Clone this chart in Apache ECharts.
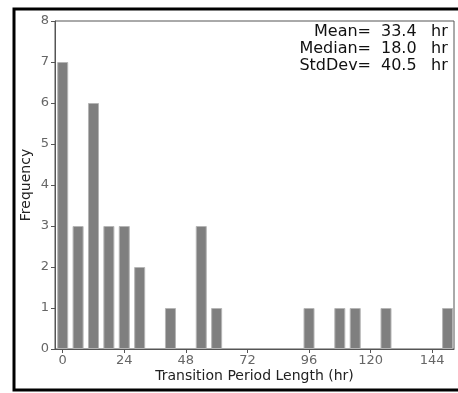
<!DOCTYPE html>
<html>
<head>
<meta charset="utf-8">
<script src="https://cdn.jsdelivr.net/npm/echarts@6/dist/echarts.min.js"></script>
<style>
  html, body { margin: 0; padding: 0; background: #fff; }
  #chart { width: 458px; height: 393px; }
</style>
</head>
<body>
<div id="chart"></div>
<script>
// histogram bin centres (hr) and counts
const binCenters = [0, 6, 12, 18, 24, 30, 42, 54, 60, 96, 108, 114, 126, 150];
const counts = [7, 3, 6, 3, 3, 2, 1, 3, 1, 1, 1, 1, 1, 1];
const xTicks = [0, 24, 48, 72, 96, 120, 144];
const statLabels = ['Mean=', 'Median=', 'StdDev='];
const statValues = ['33.4', '18.0', '40.5'];

const font = '"DejaVu Sans ExtraLight", "DejaVu Sans", sans-serif';
const axisGrey = '#555';

const chart = echarts.init(document.getElementById('chart'));

const statGraphics = [];
statLabels.forEach((lab, i) => {
  const y = 33 + i * 17;
  statGraphics.push(
    { type: 'text', right: 458 - 371, top: y - 9,
      style: { text: lab, font: '16px ' + font, fill: '#111', textAlign: 'right' } },
    { type: 'text', left: 381, top: y - 9,
      style: { text: statValues[i], font: '16px ' + font, fill: '#111' } },
    { type: 'text', left: 431, top: y - 9,
      style: { text: 'hr', font: '16px ' + font, fill: '#111' } }
  );
});

chart.setOption({
  animation: false,
  grid: {
    left: 55, top: 21, right: 4, bottom: 44,
    show: true, borderColor: axisGrey, borderWidth: 1
  },
  xAxis: {
    type: 'value',
    min: -3,
    max: 152.5,
    name: 'Transition Period Length (hr)',
    nameLocation: 'middle',
    nameGap: 20,
    nameMoveOverlap: false,
    nameTextStyle: { fontFamily: font, fontSize: 14, color: '#222' },
    axisLine: { show: true, onZero: false, lineStyle: { color: axisGrey } },
    axisTick: { show: true, length: 4, customValues: xTicks, lineStyle: { color: axisGrey } },
    axisLabel: { customValues: xTicks, fontFamily: font, fontSize: 13, color: '#666', margin: 5 },
    splitLine: { show: false }
  },
  yAxis: {
    type: 'value',
    min: 0,
    max: 8,
    interval: 1,
    name: 'Frequency',
    nameLocation: 'middle',
    nameGap: 22,
    nameMoveOverlap: false,
    nameTextStyle: { fontFamily: font, fontSize: 14, color: '#222' },
    axisLine: { show: true, onZero: false, lineStyle: { color: axisGrey } },
    axisTick: { show: true, length: 4, lineStyle: { color: axisGrey } },
    axisLabel: { fontFamily: font, fontSize: 13, color: '#666', margin: 6 },
    splitLine: { show: false }
  },
  series: [
    {
      type: 'bar',
      barWidth: 11,
      itemStyle: { color: '#7f7f7f', borderColor: '#b5b5b5', borderWidth: 1 },
      data: binCenters.map((x, i) => [x, counts[i]])
    }
  ],
  graphic: [
    { type: 'rect', shape: { x: 14, y: 9, width: 460, height: 381 },
      style: { fill: 'none', stroke: '#000', lineWidth: 3 }, silent: true },
    ...statGraphics
  ]
});
</script>
</body>
</html>
